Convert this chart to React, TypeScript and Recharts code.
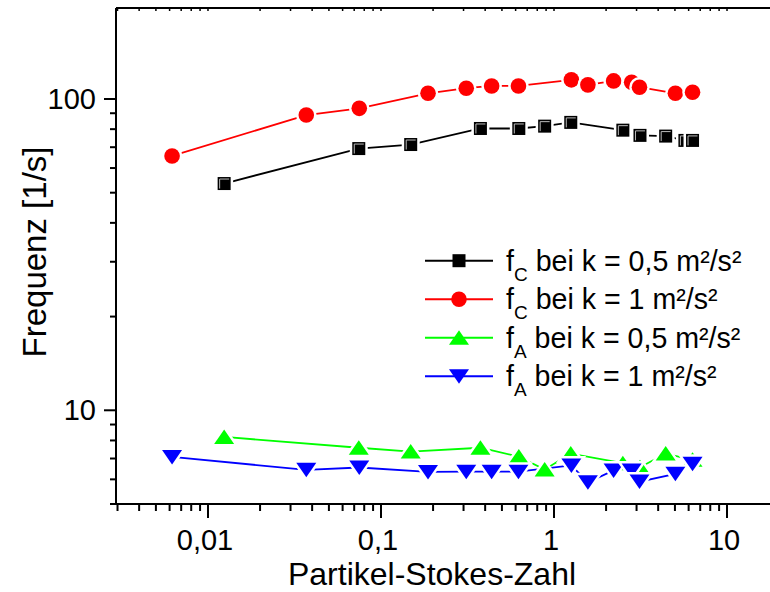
import { LineChart, Line, XAxis, YAxis } from 'recharts'

// Partikel-Stokes-Zahl, shared by both series of the same k
const stokesK05 = [0.0124, 0.0744, 0.1485, 0.3755, 0.626, 0.883, 1.25, 2.5, 3.14, 4.42, 5.71, 6.32]
const stokesK1 = [0.0062, 0.037, 0.0749, 0.187, 0.311, 0.436, 0.623, 1.26, 1.57, 2.21, 2.81, 3.12, 5.03, 6.32]

// Frequenz [1/s]
const fcK05 = [53.5, 69.3, 71.4, 80.4, 80.4, 81.8, 84.1, 79.4, 76.4, 76.0, 73.6, 73.6]
const fcK1 = [65.6, 88.8, 93.3, 104.3, 108.3, 110.1, 110.1, 115.2, 111.0, 114.3, 113.2, 109.1, 104.3, 105.1]
const faK05 = [8.21, 7.58, 7.37, 7.58, 7.10, 6.45, 7.26, 6.76, 6.56, 7.26, null, 6.93]
const faK1 = [7.08, 6.44, 6.55, 6.34, 6.35, 6.35, 6.35, 6.65, 5.87, 6.41, 6.40, 5.90, 6.25, 6.73]

const xMajor = [0.01, 0.1, 1, 10]
const xMajorLabels = ['0,01', '0,1', '1', '10']
const yMajor = [10, 100]
const yMajorLabels = ['10', '100']

const FONT = 'Arial, "Liberation Sans", sans-serif'

const toPoints = (xs: number[], ys: (number | null)[]) => xs.map((x, i) => ({ x, y: ys[i] }))

// minor + major ticks for a log axis
function logTicks(from: number, to: number) {
  const out: number[] = []
  for (let e = Math.floor(Math.log10(from)); e <= Math.ceil(Math.log10(to)); e++) {
    for (let m = 1; m <= 9; m++) {
      const v = +(m * Math.pow(10, e)).toPrecision(6)
      if (v >= from * 0.999 && v <= to * 1.001) out.push(v)
    }
  }
  return out
}

const X_DOMAIN: [number, number] = [0.00294, 20]
const Y_DOMAIN: [number, number] = [5, 196]
const xTicks = logTicks(X_DOMAIN[0], X_DOMAIN[1])
const yTicks = logTicks(Y_DOMAIN[0], Y_DOMAIN[1])

const majorIndex = (list: number[], v: number) => list.findIndex((t) => Math.abs(t - v) / t < 1e-6)

type Shape = 'square' | 'circle' | 'up' | 'down'

function shapeEl(shape: Shape, cx: number, cy: number, props: any) {
  if (shape === 'circle') return <circle cx={cx} cy={cy} r={7.8} {...props} />
  if (shape === 'square') return <rect x={cx - 6.5} y={cy - 6.5} width={13} height={13} {...props} />
  if (shape === 'up')
    return <polygon points={`${cx},${cy - 7.5} ${cx + 10},${cy + 7} ${cx - 10},${cy + 7}`} {...props} />
  return <polygon points={`${cx},${cy + 7.5} ${cx + 10},${cy - 7} ${cx - 10},${cy - 7}`} {...props} />
}

function Marker({ shape, cx, cy, color }: { shape: Shape; cx: number; cy: number; color: string }) {
  return (
    <g>
      {shapeEl(shape, cx, cy, { fill: '#fff', stroke: '#fff', strokeWidth: 5 })}
      {shapeEl(shape, cx, cy, { fill: color })}
      {shape === 'square' && (
        <polyline
          points={`${cx - 4.5},${cy + 5} ${cx - 4.5},${cy - 4.5} ${cx + 5},${cy - 4.5}`}
          fill="none"
          stroke="#bbb"
          strokeWidth={1}
        />
      )}
    </g>
  )
}

const dotFor = (shape: Shape, color: string) => (p: any) => {
  if (p.cx == null || p.cy == null || p.value == null) return <g key={`n${p.index}`} />
  return <Marker key={`m${p.index}`} shape={shape} cx={p.cx} cy={p.cy} color={color} />
}

function BottomTick({ x, y, payload }: any) {
  const i = majorIndex(xMajor, payload.value)
  return (
    <g>
      <line x1={x} x2={x} y1={y} y2={y + (i >= 0 ? 14 : 7)} stroke="#000" strokeWidth={2} />
      {i >= 0 && (
        <text x={x - 3} y={y + 46} textAnchor="middle" fontSize={29} fontFamily={FONT} fill="#000">
          {xMajorLabels[i]}
        </text>
      )}
    </g>
  )
}

function TopTick({ x, y }: any) {
  return <line x1={x} x2={x} y1={y} y2={y + 3} stroke="#000" strokeWidth={1.5} />
}

function LeftTick({ x, y, payload }: any) {
  const i = majorIndex(yMajor, payload.value)
  return (
    <g>
      <line x1={x} x2={x - (i >= 0 ? 12 : 6)} y1={y} y2={y} stroke="#000" strokeWidth={2} />
      {i >= 0 && (
        <text x={x - 20} y={y + 10} textAnchor="end" fontSize={29} fontFamily={FONT} fill="#000">
          {yMajorLabels[i]}
        </text>
      )}
    </g>
  )
}

const legendItems: { shape: Shape; color: string; sub: string; rest: string }[] = [
  { shape: 'square', color: '#000000', sub: 'C', rest: ' bei k = 0,5 m²/s²' },
  { shape: 'circle', color: '#ff0000', sub: 'C', rest: ' bei k = 1 m²/s²' },
  { shape: 'up', color: '#00ff00', sub: 'A', rest: ' bei k = 0,5 m²/s²' },
  { shape: 'down', color: '#0000ff', sub: 'A', rest: ' bei k = 1 m²/s²' },
]

function LegendBox() {
  return (
    <svg
      width={345}
      height={160}
      style={{ position: 'absolute', left: 420, top: 240, overflow: 'visible' }}
    >
      {legendItems.map((it, i) => {
        const y = 20.7 + i * 38.5
        return (
          <g key={i}>
            <line x1={5} x2={73} y1={y} y2={y} stroke={it.color} strokeWidth={2} />
            {shapeEl(it.shape, 39, y, { fill: it.color })}
            <text x={86} y={y + 10} fontSize={28.6} fontFamily={FONT} fill="#000">
              f
              <tspan fontSize={19} dy={10}>
                {it.sub}
              </tspan>
              <tspan dy={-10}>{it.rest}</tspan>
            </text>
          </g>
        )
      })}
    </svg>
  )
}

export default function App() {
  return (
    <div
      style={{
        position: 'absolute',
        left: 0,
        top: 0,
        width: 770,
        height: 592,
        overflow: 'hidden',
        background: '#fff',
      }}
    >
      <LineChart width={800} height={592} margin={{ top: 7, right: 20.9, bottom: 87, left: 115 }}>
        <XAxis
          xAxisId="bottom"
          dataKey="x"
          type="number"
          scale="log"
          domain={X_DOMAIN}
          allowDataOverflow
          ticks={xTicks}
          interval={0}
          height={1}
          tickSize={0}
          tickMargin={0}
          tickLine={false}
          tick={BottomTick}
          axisLine={{ stroke: '#000', strokeWidth: 2 }}
          label={() => (
            <text x={432} y={585} textAnchor="middle" fontSize={32} fontFamily={FONT} fill="#000">
              Partikel-Stokes-Zahl
            </text>
          )}
        />
        <XAxis
          xAxisId="top"
          orientation="top"
          dataKey="x"
          type="number"
          scale="log"
          domain={X_DOMAIN}
          allowDataOverflow
          ticks={xTicks}
          interval={0}
          height={1}
          tickSize={0}
          tickMargin={0}
          tickLine={false}
          tick={TopTick}
          axisLine={{ stroke: '#000', strokeWidth: 2 }}
        />
        <YAxis
          yAxisId="left"
          dataKey="y"
          type="number"
          scale="log"
          domain={Y_DOMAIN}
          allowDataOverflow
          ticks={yTicks}
          interval={0}
          width={1}
          tickSize={0}
          tickMargin={0}
          tickLine={false}
          tick={LeftTick}
          axisLine={{ stroke: '#000', strokeWidth: 2 }}
          label={() => (
            <text
              x={46}
              y={252}
              textAnchor="middle"
              fontSize={33}
              fontFamily={FONT}
              fill="#000"
              transform="rotate(-90 46 252)"
            >
              Frequenz [1/s]
            </text>
          )}
        />
        <Line
          xAxisId="bottom"
          yAxisId="left"
          data={toPoints(stokesK05, fcK05)}
          dataKey="y"
          stroke="#000000"
          strokeWidth={1.8}
          dot={dotFor('square', '#000000')}
          activeDot={false}
          isAnimationActive={false}
        />
        <Line
          xAxisId="bottom"
          yAxisId="left"
          data={toPoints(stokesK1, fcK1)}
          dataKey="y"
          stroke="#ff0000"
          strokeWidth={1.8}
          dot={dotFor('circle', '#ff0000')}
          activeDot={false}
          isAnimationActive={false}
        />
        <Line
          xAxisId="bottom"
          yAxisId="left"
          data={toPoints(stokesK05, faK05)}
          dataKey="y"
          stroke="#00ff00"
          strokeWidth={1.8}
          connectNulls
          dot={dotFor('up', '#00ff00')}
          activeDot={false}
          isAnimationActive={false}
        />
        <Line
          xAxisId="bottom"
          yAxisId="left"
          data={toPoints(stokesK1, faK1)}
          dataKey="y"
          stroke="#0000ff"
          strokeWidth={1.8}
          dot={dotFor('down', '#0000ff')}
          activeDot={false}
          isAnimationActive={false}
        />
      </LineChart>
      <LegendBox />
    </div>
  )
}
